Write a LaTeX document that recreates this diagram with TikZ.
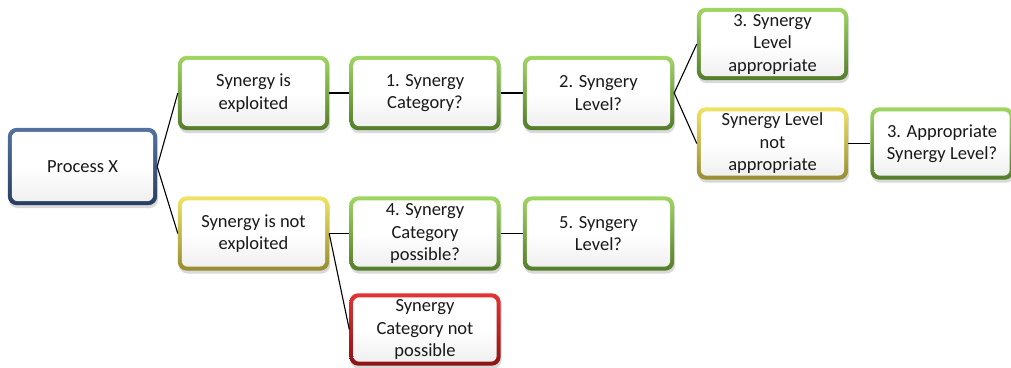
\documentclass[tikz,border=0pt]{standalone}
\usepackage{fontspec}
\setmainfont{Carlito}
\usetikzlibrary{backgrounds}

\definecolor{grT}{RGB}{160,214,98}
\definecolor{grB}{RGB}{84,124,42}
\definecolor{yeT}{RGB}{240,228,100}
\definecolor{yeB}{RGB}{150,140,50}
\definecolor{reT}{RGB}{230,50,50}
\definecolor{reB}{RGB}{140,20,20}
\definecolor{blT}{RGB}{84,114,160}
\definecolor{blB}{RGB}{40,62,98}

\tikzset{
  lbl/.style={align=center, inner sep=0pt, text=black!90,
    font=\fontsize{18.5}{22.5}\selectfont,
    minimum width=151pt, minimum height=74pt},
  link/.style={draw=black, line width=1.1pt},
}

\begin{document}
\begin{tikzpicture}[x=1pt, y=-1pt]
\useasboundingbox (0,0) rectangle (1011,367);

% node texts
\node[lbl, minimum width=149pt, minimum height=77pt] (px)  at (82.5,166.5) {Process X};
\node[lbl] (exp)  at (253.5,93)  {Synergy is\\exploited};
\node[lbl] (cat)  at (425,93)    {1. Synergy\\Category?};
\node[lbl] (lev)  at (598.5,93)  {2. Syngery\\Level?};
\node[lbl, minimum height=72pt] (app)  at (772.5,44) {3. Synergy\\Level\\appropriate};
\node[lbl, minimum height=72pt] (napp) at (772.5,143.5) {Synergy Level\\not\\appropriate};
\node[lbl, minimum width=143pt, minimum height=72pt] (qapp) at (942,143.5) {3. Appropriate\\Synergy Level?};
\node[lbl] (nexp) at (253.5,233.5) {Synergy is not\\exploited};
\node[lbl] (pcat) at (425,233.5) {4. Synergy\\Category\\possible?};
\node[lbl] (lev5) at (598.5,233.5) {5. Syngery\\Level?};
\node[lbl, minimum height=72pt] (ncat) at (425,329.5) {Synergy\\Category not\\possible};

% connectors
\draw[link] (px.east) -- (exp.west);
\draw[link] (px.east) -- (nexp.west);
\draw[link] (exp.east) -- (cat.west);
\draw[link] (cat.east) -- (lev.west);
\draw[link] (lev.east) -- (app.west);
\draw[link] (lev.east) -- (napp.west);
\draw[link] (napp.east) -- (qapp.west);
\draw[link] (nexp.east) -- (pcat.west);
\draw[link] (pcat.east) -- (lev5.west);
\draw[link] (nexp.east) -- (ncat.west);

% framed boxes behind the texts
\begin{scope}[on background layer]
\foreach \n/\ct/\cb in {px/blT/blB, exp/grT/grB, cat/grT/grB, lev/grT/grB,
    app/grT/grB, napp/yeT/yeB, qapp/grT/grB, nexp/yeT/yeB, pcat/grT/grB,
    lev5/grT/grB, ncat/reT/reB}{
  \fill[black, opacity=0.15, rounded corners=9pt]
    ([shift={(1pt,-3pt)}]\n.south west) rectangle ([shift={(1pt,-3pt)}]\n.north east);
  \shade[rounded corners=9pt, top color=\ct, bottom color=\cb]
    (\n.south west) rectangle (\n.north east);
  \shade[rounded corners=6pt, top color=white, bottom color=black!6, middle color=white]
    ([shift={(4pt,4pt)}]\n.south west) rectangle ([shift={(-4pt,-4pt)}]\n.north east);
}
\end{scope}
\end{tikzpicture}
\end{document}
